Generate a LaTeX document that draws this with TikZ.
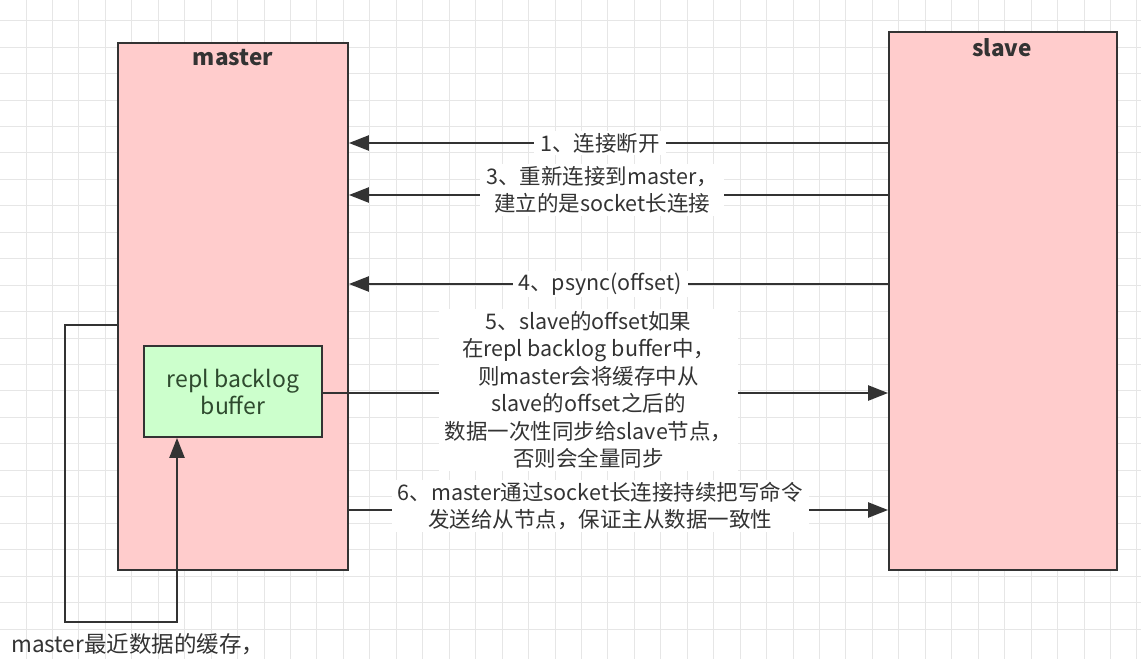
\documentclass[tikz,border=0pt]{standalone}
\usepackage{fontspec}
\setmainfont{Noto Sans CJK SC}
\usetikzlibrary{arrows.meta}
\definecolor{linec}{HTML}{333333}
\definecolor{txt}{HTML}{333333}
\definecolor{gtxt}{HTML}{2E4A2E}
\definecolor{pinkf}{HTML}{FFCCCC}
\definecolor{greenf}{HTML}{CCFFCC}
\definecolor{gridc}{HTML}{E6E6E6}
\tikzset{
  box/.style={draw=linec, line width=1.8pt, rectangle, inner sep=0pt},
  arr/.style={draw=linec, line width=2.4pt, -{Triangle[length=20pt,width=15pt]}},
  lbl/.style={fill=white, text=txt, align=center, inner xsep=6pt, inner ysep=2pt,
              font=\fontsize{21.5}{27.5}\selectfont},
  title/.style={text=txt, font=\fontsize{22.5}{26}\selectfont\bfseries}
}
\begin{document}
\begin{tikzpicture}[x=1pt,y=-1pt]
\useasboundingbox (0,0) rectangle (1141,659);
\fill[white] (0,0) rectangle (1141,659);
% grid
\foreach \i in {0,...,43} {
  \draw[gridc, line width=1pt] ({26+26.45*\i},0) -- ({26+26.45*\i},659);
}
\foreach \j in {0,...,24} {
  \draw[gridc, line width=1pt] (0,{-5.8+26.45*\j}) -- (1141,{-5.8+26.45*\j});
}
% boxes
\node[box, fill=pinkf, minimum width=230pt, minimum height=527pt] (master) at (233,306.5) {};
\node[box, fill=pinkf, minimum width=228pt, minimum height=538pt] (slave) at (1003,301) {};
\node[title] (mt) at (233,58) {master};
\node[title] (st) at (1002,48) {slave};
\node[box, fill=greenf, minimum width=178pt, minimum height=91pt, text=gtxt, align=center,
      font=\fontsize{23}{27}\selectfont] (buf) at (233,391.5) {repl backlog\\buffer};
% coordinates for arrow levels
\coordinate (y1) at (0,143);
\coordinate (y3) at (0,195);
\coordinate (y4) at (0,284);
\coordinate (y5) at (0,393);
\coordinate (y6) at (0,510);
% arrows slave -> master
\draw[arr] (slave.west |- y1) -- node[lbl, pos=0.534] (l1) {1、连接断开} (master.east |- y1);
\draw[arr] (slave.west |- y3) -- node[lbl, pos=0.53, yshift=5pt] (l3) {3、重新连接到master，\\建立的是socket长连接} (master.east |- y3);
\draw[arr] (slave.west |- y4) -- node[lbl, pos=0.534] (l4) {4、psync(offset)} (master.east |- y4);
% arrows master -> slave
\draw[arr] (buf.east |- y5) -- node[lbl, pos=0.47, yshift=3pt] (l5) {5、slave的offset如果\\在repl backlog buffer中，\\则master会将缓存中从\\slave的offset之后的\\数据一次性同步给slave节点，\\否则会全量同步} (slave.west |- y5);
\draw[arr] (master.east |- y6) -- node[lbl, pos=0.466, yshift=4pt] (l6) {6、master通过socket长连接持续把写命令\\发送给从节点，保证主从数据一致性} (slave.west |- y6);
% loop
\coordinate (c1) at (65,325);
\coordinate (c2) at (65,622);
\coordinate (c3) at (177,622);
\draw[arr] (master.west |- c1) -- (c1) -- (c2) -- (c3) -- (buf.south -| c3);
\node[anchor=west, text=txt, font=\fontsize{22.5}{26}\selectfont, inner sep=0pt] (note) at (11,644) {master最近数据的缓存，};
\end{tikzpicture}
\end{document}
